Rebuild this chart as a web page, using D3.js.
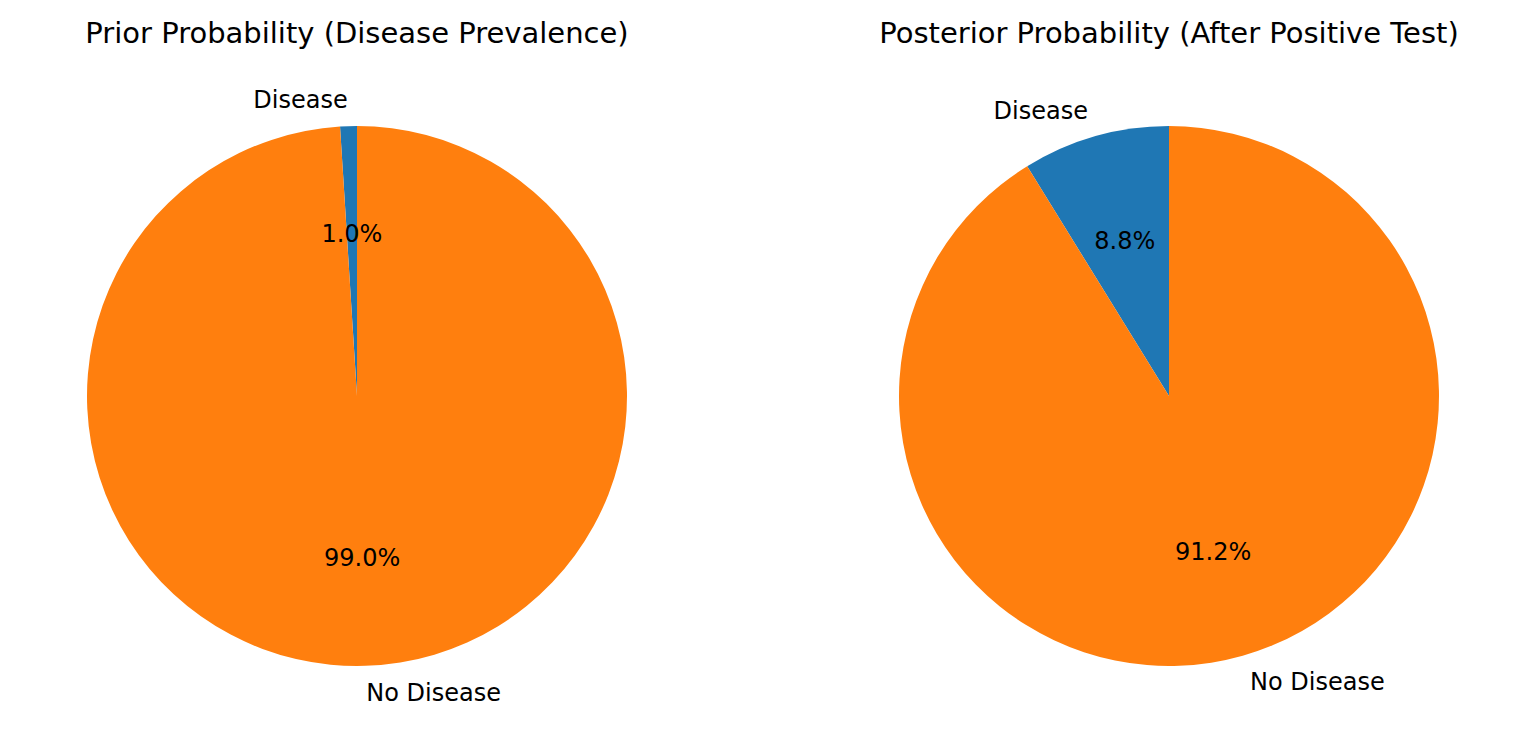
<!DOCTYPE html>
<html><head><meta charset="utf-8">
<script src="https://cdn.jsdelivr.net/npm/d3@7"></script>
<style>body{margin:0;background:#fff}svg{font-family:"DejaVu Sans",sans-serif}</style>
</head><body><svg id="c" width="1526" height="754"></svg>
<script>
const categories = ['Disease', 'No Disease'];
const priorValues = [1.0, 99.0];
const posteriorValues = [8.8, 91.2];
const titles = ['Prior Probability (Disease Prevalence)', 'Posterior Probability (After Positive Test)'];
const colors = ['#1f77b4', '#ff7f0e'];

const svg = d3.select('#c');
const radius = 270;
const panels = [
  {cx: 357, values: priorValues, title: titles[0]},
  {cx: 1169, values: posteriorValues, title: titles[1]},
];

// matplotlib style: start at top, go counterclockwise
const pie = d3.pie().sort(null).startAngle(0).endAngle(-2 * Math.PI);
const arc = d3.arc().innerRadius(0).outerRadius(radius);

panels.forEach(p => {
  svg.append('text')
    .attr('x', p.cx).attr('y', 43)
    .attr('text-anchor', 'middle')
    .style('font-size', '29px')
    .text(p.title);

  const g = svg.append('g').attr('transform', `translate(${p.cx},396)`);
  const arcs = pie(p.values);

  g.selectAll('path').data(arcs).enter().append('path')
    .attr('d', arc)
    .attr('fill', (d, i) => colors[i]);

  arcs.forEach((d, i) => {
    const a = (d.startAngle + d.endAngle) / 2;
    const lx = Math.sin(a) * radius * 1.1, ly = -Math.cos(a) * radius * 1.1;
    g.append('text')
      .attr('x', lx).attr('y', ly)
      .attr('dy', '0.35em')
      .attr('text-anchor', lx < 0 ? 'end' : 'start')
      .style('font-size', '24px')
      .text(categories[i]);
    g.append('text')
      .attr('x', Math.sin(a) * radius * 0.6).attr('y', -Math.cos(a) * radius * 0.6)
      .attr('dy', '0.35em')
      .attr('text-anchor', 'middle')
      .style('font-size', '24px')
      .text(p.values[i].toFixed(1) + '%');
  });
});
</script></body></html>
